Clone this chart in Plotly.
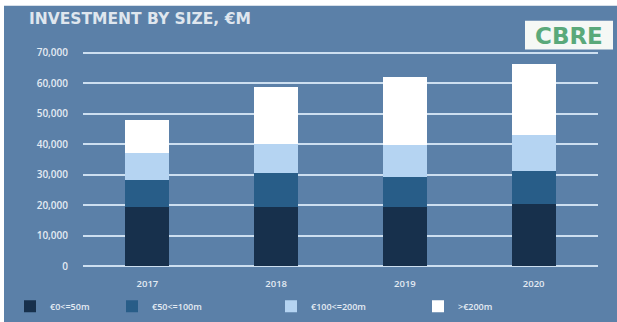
import plotly.graph_objects as go

years = ["2017", "2018", "2019", "2020"]
s_0_50 = [19300, 19400, 19600, 20500]
s_50_100 = [8900, 11300, 9700, 10800]
s_100_200 = [8900, 9300, 10300, 11600]
s_200_plus = [10900, 18800, 22400, 23200]
series_names = ["€0<=50m", "€50<=100m", "€100<=200m", ">€200m"]
series_colors = ["#17304c", "#285d88", "#b5d4f2", "#ffffff"]
y_ticks = [0, 10000, 20000, 30000, 40000, 50000, 60000, 70000]
y_ticklabels = ["0", "10,000", "20,000", "30,000", "40,000", "50,000", "60,000", "70,000"]

BG = "#5b80a8"
TXT = "#e4ebf3"
W, H = 617, 322
L, R, T, B = 83, 19, 50.5, 53.5
pw, ph = W - L - R, H - T - B

def px(x):
    return (x - L) / pw

def py(y):
    return (H - B - y) / ph

legend_ids = ["legend", "legend2", "legend3", "legend4"]
legend_x = [10, 112, 271, 418]

fig = go.Figure()
for name, vals, col, lid in zip(series_names, [s_0_50, s_50_100, s_100_200, s_200_plus],
                                series_colors, legend_ids):
    fig.add_trace(go.Bar(x=years, y=vals, name=name, marker=dict(color=col, line=dict(width=0)),
                         width=0.34, legend=lid))

legend_common = dict(orientation="h", yanchor="middle", y=py(307), xanchor="left",
                     font=dict(size=9, color=TXT, family="Open Sans", weight=600),
                     bgcolor="rgba(0,0,0,0)", itemwidth=30)
legends = {}
for lid, lx in zip(legend_ids, legend_x):
    legends[lid] = dict(legend_common, x=px(lx))

fig.update_layout(
    width=W, height=H,
    barmode="stack",
    paper_bgcolor=BG, plot_bgcolor=BG,
    margin=dict(l=L, r=R, t=T, b=B, pad=0, autoexpand=False),
    font=dict(family="Open Sans", color=TXT, size=9),
    xaxis=dict(showgrid=False, showline=False, ticks="", ticklabelstandoff=8,
               tickfont=dict(size=9.5, color=TXT, family="Open Sans", weight=600)),
    yaxis=dict(range=[-500, 70500], tickvals=y_ticks, ticktext=y_ticklabels,
               showgrid=True, gridcolor="#cddff0", gridwidth=2, zeroline=False,
               showline=False, ticks="", ticklabelstandoff=14,
               tickfont=dict(size=10, color=TXT, family="Open Sans", weight=600)),
    showlegend=True,
    shapes=[
        dict(type="rect", xref="paper", yref="paper", x0=px(-5), x1=px(W + 5), y0=py(5), y1=py(-5),
             fillcolor="#ffffff", line=dict(width=0), layer="above"),
        dict(type="rect", xref="paper", yref="paper", x0=px(-5), x1=px(4), y0=py(H + 5), y1=py(-5),
             fillcolor="#ffffff", line=dict(width=0), layer="above"),
        dict(type="rect", xref="paper", yref="paper", x0=px(525), x1=px(613), y0=py(49), y1=py(20),
             fillcolor="#f5f8f5", line=dict(width=0), layer="above"),
    ],
    annotations=[
        dict(text="<b>INVESTMENT BY SIZE, €M</b>", xref="paper", yref="paper", x=px(27), y=py(18),
             xanchor="left", yanchor="middle", showarrow=False,
             font=dict(family="DejaVu Sans", size=15.5, color="#dfe6ee")),
        dict(text="<b>CBRE</b>", xref="paper", yref="paper", x=px(569), y=py(35),
             xanchor="center", yanchor="middle", showarrow=False,
             font=dict(family="DejaVu Sans", size=23, color="#5aa97a")),
    ],
    **legends,
)

fig.write_html("out.html")
